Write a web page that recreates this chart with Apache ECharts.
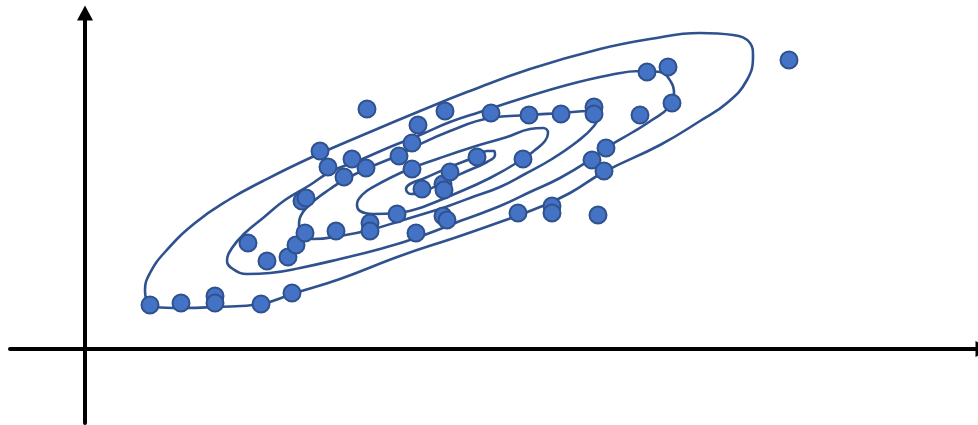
<!DOCTYPE html>
<html>
<head>
<meta charset="utf-8">
<script src="https://cdn.jsdelivr.net/npm/echarts@6/dist/echarts.min.js"></script>
<style>
  html, body { margin: 0; padding: 0; background: #fff; }
  #chart { width: 978px; height: 425px; }
</style>
</head>
<body>
<div id="chart"></div>
<script>
// observations, origin at the axis crossing
const samples = [
  [65, 44], [96, 46], [130, 53], [130, 46], [176, 45], [207, 56],
  [163, 106], [182, 88], [203, 92], [211, 104], [220, 116], [217, 148],
  [221, 151], [235, 198], [243, 182], [259, 172], [267, 190], [281, 181],
  [282, 240], [251, 118], [285, 126], [285, 118], [312, 135], [331, 116],
  [314, 193], [327, 206], [333, 224], [327, 180], [337, 160], [358, 165],
  [359, 159], [365, 177], [392, 192], [360, 238], [406, 236], [358, 133],
  [362, 129], [433, 136], [467, 143], [467, 136], [438, 190], [444, 234],
  [476, 235], [509, 242], [509, 235], [513, 134], [507, 189], [521, 201],
  [519, 178], [555, 234], [562, 277], [583, 282], [587, 246], [704, 289]
];

// density contours, outermost first
const contourA = [
  [415, 127], [375, 113], [315, 93], [255, 70], [207, 55], [176, 45],
  [130, 42], [95, 41], [70, 42], [62, 48], [60, 59], [65, 76], [80, 97],
  [110, 126], [145, 150], [178, 168], [225, 191], [285, 217], [335, 238],
  [382, 257], [445, 280], [515, 300], [565, 310], [615, 316], [648, 314],
  [665, 306], [668, 293], [662, 269], [642, 246], [615, 228], [575, 204],
  [519, 177], [485, 156], [455, 142]
];
const contourB = [
  [375, 128], [331, 111], [295, 100], [255, 90], [215, 81], [185, 76],
  [162, 75], [148, 80], [142, 88], [147, 101], [160, 116], [178, 131],
  [200, 149], [225, 164], [245, 177], [275, 189], [305, 202], [335, 214],
  [365, 227], [395, 237], [435, 250], [482, 264], [525, 274], [555, 278],
  [575, 277], [586, 267], [589, 256], [584, 242], [567, 229], [548, 217],
  [521, 201], [505, 189], [475, 171], [445, 157], [415, 143]
];
const contourC = [
  [358, 141], [315, 128], [285, 119], [255, 113], [228, 110], [217, 115],
  [214, 124], [218, 137], [230, 149], [245, 160], [259, 169], [281, 180],
  [314, 194], [327, 201], [365, 218], [405, 231], [444, 234], [476, 236],
  [505, 238], [513, 233], [509, 223], [493, 208], [467, 190], [440, 175],
  [415, 162], [385, 151]
];
const contourD = [
  [338, 142], [312, 136], [288, 135], [275, 138], [272, 144], [277, 154],
  [288, 162], [322, 179], [355, 191], [388, 202], [422, 212], [445, 220],
  [458, 221], [463, 216], [460, 208], [450, 199], [438, 190], [405, 171],
  [365, 153]
];
const contourE = [
  [358, 167], [340, 158], [326, 155], [321, 160], [325, 165], [340, 171],
  [365, 182], [390, 192], [402, 198], [409, 198], [410, 194], [402, 187],
  [380, 177]
];

const LINE_COLOR = '#2f528f';
const closeRing = (ring) => ring.concat([ring[0]]);

const contourSeries = [contourA, contourB, contourC, contourD, contourE].map((ring) => ({
  type: 'line',
  data: closeRing(ring),
  smooth: 0.45,
  showSymbol: false,
  silent: true,
  z: 2,
  lineStyle: { color: LINE_COLOR, width: 2.6 },
}));

function arrowAxis(endOffset) {
  return {
    onZero: true,
    symbol: ['none', 'triangle'],
    symbolSize: [16, 15],
    symbolOffset: [0, endOffset],
    lineStyle: { color: '#000', width: 4 },
  };
}

const chart = echarts.init(document.getElementById('chart'));
chart.setOption({
  animation: false,
  backgroundColor: '#fff',
  grid: { left: 10, right: 0, top: 13, bottom: 2 },
  xAxis: {
    type: 'value',
    min: -75,
    max: 893,
    // arrow head pushed past the right edge, only its base shows
    axisLine: arrowAxis(5),
    axisTick: { show: false },
    axisLabel: { show: false },
    splitLine: { show: false },
  },
  yAxis: {
    type: 'value',
    min: -74,
    max: 336,
    axisLine: arrowAxis(0),
    axisTick: { show: false },
    axisLabel: { show: false },
    splitLine: { show: false },
  },
  series: [
    ...contourSeries,
    {
      type: 'scatter',
      data: samples,
      symbolSize: 17,
      z: 3,
      itemStyle: { color: '#4472c4', borderColor: LINE_COLOR, borderWidth: 2, opacity: 1 },
    },
  ],
});
</script>
</body>
</html>
